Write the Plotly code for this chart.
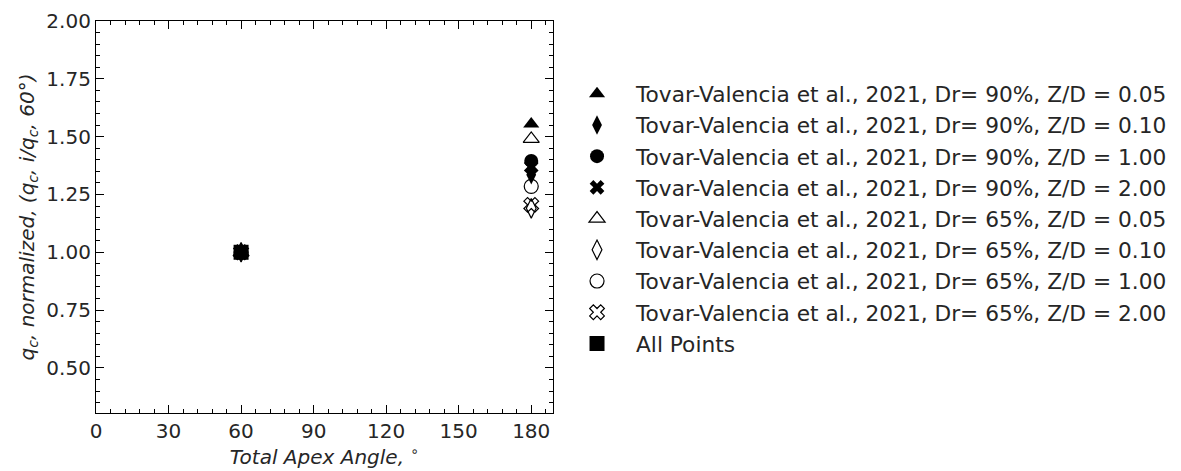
import plotly.graph_objects as go

# ---- data ----
angles = [60, 180]
series_names = [
    "Tovar-Valencia et al., 2021, Dr= 90%, Z/D = 0.05",
    "Tovar-Valencia et al., 2021, Dr= 90%, Z/D = 0.10",
    "Tovar-Valencia et al., 2021, Dr= 90%, Z/D = 1.00",
    "Tovar-Valencia et al., 2021, Dr= 90%, Z/D = 2.00",
    "Tovar-Valencia et al., 2021, Dr= 65%, Z/D = 0.05",
    "Tovar-Valencia et al., 2021, Dr= 65%, Z/D = 0.10",
    "Tovar-Valencia et al., 2021, Dr= 65%, Z/D = 1.00",
    "Tovar-Valencia et al., 2021, Dr= 65%, Z/D = 2.00",
]
dr90_zd005 = [1.00, 1.555]
dr90_zd010 = [1.00, 1.335]
dr90_zd100 = [1.00, 1.395]
dr90_zd200 = [1.00, 1.37]
dr65_zd005 = [1.00, 1.49]
dr65_zd010 = [1.00, 1.19]
dr65_zd100 = [1.00, 1.285]
dr65_zd200 = [1.00, 1.205]
all_points_x = [60]
all_points_y = [1.00]

series_values = [dr90_zd005, dr90_zd010, dr90_zd100, dr90_zd200,
                 dr65_zd005, dr65_zd010, dr65_zd100, dr65_zd200]
symbols = ["triangle-up", "diamond-tall", "circle", "x",
           "triangle-up-open", "diamond-tall-open", "circle-open", "x-open"]
sizes = [14, 14, 14, 13, 14, 14, 14, 13]

FONT = "DejaVu Sans"
TXT = "#262626"

fig = go.Figure()
for i, (name, vals, sym, sz) in enumerate(zip(series_names, series_values, symbols, sizes)):
    fig.add_trace(go.Scatter(
        x=angles, y=vals, mode="markers", name=name,
        legendgroup=f"g{i}",
        marker=dict(symbol=sym, size=sz, color="black",
                    line=dict(color="black", width=1.2 if "open" in sym else 0)),
    ))
fig.add_trace(go.Scatter(
    x=all_points_x, y=all_points_y, mode="markers", name="All Points",
    legendgroup="gall",
    marker=dict(symbol="square", size=15, color="black", line=dict(width=0)),
))

axis_common = dict(
    showline=True, linecolor="black", linewidth=1.2, mirror="ticks",
    ticks="inside", ticklen=8, tickwidth=1, tickcolor="black",
    showgrid=False, zeroline=False,
    tickfont=dict(family=FONT, size=20, color=TXT),
)

fig.update_xaxes(
    range=[0, 189], tick0=0, dtick=30,
    minor=dict(ticks="inside", ticklen=4, tickcolor="black", dtick=6, tick0=0, showgrid=False),
    title=dict(text="<i>Total Apex Angle, </i><sup>∘</sup>",
               font=dict(family=FONT, size=20, color=TXT), standoff=4),
    **axis_common,
)
fig.update_yaxes(
    range=[0.305, 2.0], tick0=0.5, dtick=0.25, tickformat=".2f",
    minor=dict(ticks="inside", ticklen=4, tickcolor="black", dtick=0.05, tick0=0.5, showgrid=False),
    title=dict(text="<i>q<sub>c</sub>, normalized, (q<sub>c</sub>, i/q<sub>c</sub>, 60°)</i>",
               font=dict(family=FONT, size=20, color=TXT), standoff=6),
    **axis_common,
)

fig.update_layout(
    width=1181, height=471,
    margin=dict(l=96, r=628, t=21, b=58, autoexpand=False),
    plot_bgcolor="white", paper_bgcolor="white",
    legend=dict(
        x=1.011, y=0.867, xanchor="left", yanchor="top",
        font=dict(family=FONT, size=21.7, color=TXT),
        traceorder="grouped", tracegroupgap=0,
        bgcolor="rgba(0,0,0,0)", itemwidth=68,
    ),
    showlegend=True,
)

fig.write_html("out.html")
